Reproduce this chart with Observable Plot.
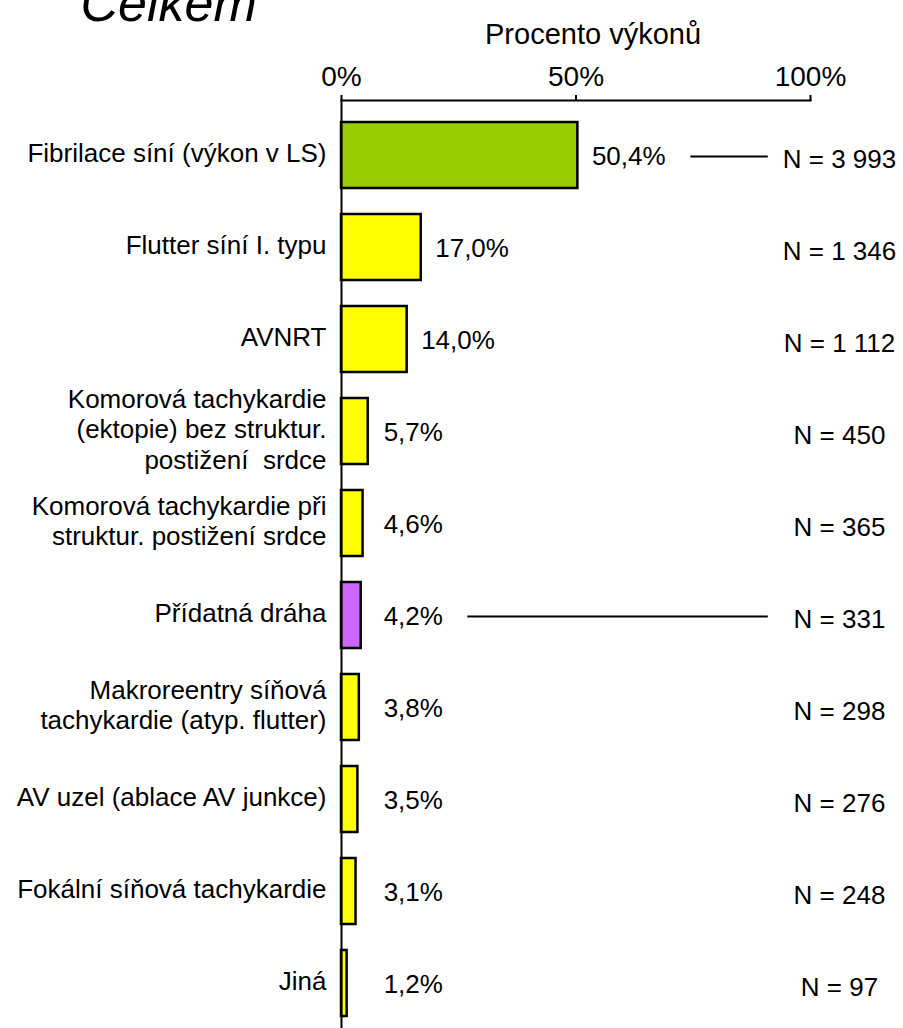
<!DOCTYPE html>
<html>
<head>
<meta charset="utf-8">
<script src="https://cdn.jsdelivr.net/npm/d3@7"></script>
<script src="https://cdn.jsdelivr.net/npm/@observablehq/plot@0.6"></script>
<style>
  html, body { margin: 0; padding: 0; background: white; }
  #chart { width: 903px; height: 1028px; overflow: hidden; }
</style>
</head>
<body>
<div id="chart"></div>
<script>
const categories = [
  "Fibrilace síní (výkon v LS)",
  "Flutter síní I. typu",
  "AVNRT",
  "Komorová tachykardie\n(ektopie) bez struktur.\npostižení  srdce",
  "Komorová tachykardie při\nstruktur. postižení srdce",
  "Přídatná dráha",
  "Makroreentry síňová\ntachykardie (atyp. flutter)",
  "AV uzel (ablace AV junkce)",
  "Fokální síňová tachykardie",
  "Jiná"
];
const percents = [50.4, 17.0, 14.0, 5.7, 4.6, 4.2, 3.8, 3.5, 3.1, 1.2];
const counts = [3993, 1346, 1112, 450, 365, 331, 298, 276, 248, 97];
const groups = ["fs", "other", "other", "other", "other", "pd", "other", "other", "other", "other"];
const connected = ["Fibrilace síní (výkon v LS)", "Přídatná dráha"];
const xTicks = [0, 50, 100];
const title = "Celkem";
const axisLabel = "Procento výkonů";

const colorMap = {fs: "#99cc00", other: "#ffff00", pd: "#cc66ff"};

const data = categories.map((c, i) => ({cat: c, value: percents[i], n: counts[i], group: groups[i]}));
const pct = v => v.toFixed(1).replace(".", ",") + "%";
const fmtN = n => String(n).replace(/\B(?=(\d{3})+(?!\d))/g, " ");
const labelX = d => Math.max(d.value, 6);

const font = "'Liberation Sans', Arial, sans-serif";

const plot = Plot.plot({
  width: 903,
  height: 1028,
  marginTop: 100,
  marginLeft: 341,
  marginRight: 93,
  marginBottom: 0,
  style: {fontFamily: font, fontSize: "26px", color: "black", background: "white", overflow: "visible"},
  x: {domain: [0, 100], axis: null},
  y: {domain: categories, range: [109, 1030], paddingInner: 0.28, paddingOuter: 0.14, axis: null},
  marks: [
    Plot.barX(data, {x: "value", y: "cat", fill: d => colorMap[d.group], stroke: "black", strokeWidth: 2.5}),
    Plot.frame({anchor: "top", stroke: "black", strokeWidth: 2}),
    Plot.frame({anchor: "left", stroke: "black", strokeWidth: 2}),
    Plot.axisX(xTicks, {anchor: "top", tickFormat: d => d + "%", tickSize: 6, tickPadding: 9, strokeWidth: 2, label: null, fontSize: 28}),
    Plot.text([axisLabel], {frameAnchor: "top", dx: 17, dy: -57, lineAnchor: "bottom", fontSize: 29}),
    Plot.text([title], {frameAnchor: "top-left", dx: -261, dy: -80, lineAnchor: "bottom", textAnchor: "start", fontSize: 52, fontStyle: "italic"}),
    Plot.text(data, {x: 0, y: "cat", text: "cat", dx: -15, dy: -3, textAnchor: "end", lineHeight: 1.17, fontSize: 26}),
    Plot.text(data, {x: labelX, y: "cat", text: d => pct(d.value), dx: 14, dy: 1, textAnchor: "start", fontSize: 26}),
    Plot.text(data, {y: "cat", frameAnchor: "right", dx: 29, dy: 4, text: d => "N = " + fmtN(d.n), textAnchor: "middle", fontSize: 26}),
    Plot.ruleY(data.filter(d => connected.includes(d.cat)), {
      y: "cat",
      x1: d => labelX(d) + (39 + 14.8 * pct(d.value).length) / 4.69,
      x2: 91,
      stroke: "black",
      strokeWidth: 2,
      dy: 1
    })
  ]
});
document.getElementById("chart").appendChild(plot);
</script>
</body>
</html>
